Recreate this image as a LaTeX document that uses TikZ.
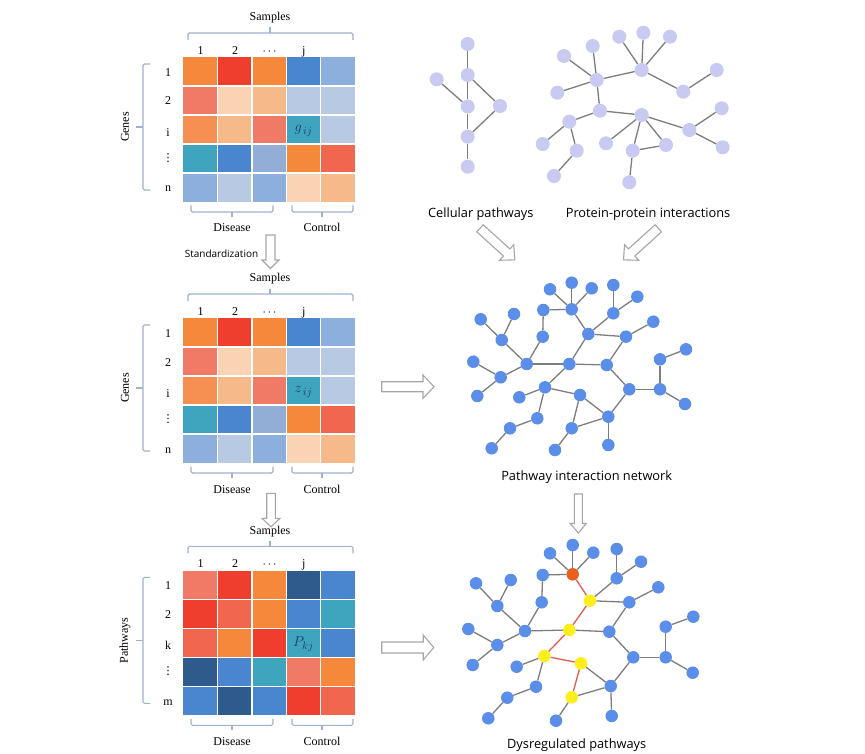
\documentclass[tikz,border=0pt]{standalone}
\usepackage{fontspec}
\setmainfont{Liberation Serif}
\newfontfamily\osans{Open Sans}
\newfontfamily\dvs{DejaVu Sans}
\definecolor{ORA}{RGB}{245,136,58}
\definecolor{ORB}{RGB}{245,144,82}
\definecolor{RED}{RGB}{239,62,46}
\definecolor{SAL}{RGB}{240,122,102}
\definecolor{SRED}{RGB}{240,102,79}
\definecolor{PEACH}{RGB}{249,211,179}
\definecolor{LORA}{RGB}{246,185,138}
\definecolor{BLU}{RGB}{74,133,208}
\definecolor{LBLU}{RGB}{141,175,221}
\definecolor{GBLU}{RGB}{184,201,227}
\definecolor{MBLU}{RGB}{147,174,214}
\definecolor{TEAL}{RGB}{63,165,190}
\definecolor{NAVY}{RGB}{46,90,140}
\definecolor{TXT}{RGB}{28,58,105}
\definecolor{BRC}{RGB}{160,178,208}
\definecolor{LAV}{RGB}{201,201,242}
\definecolor{NBLU}{RGB}{90,142,232}
\definecolor{NYEL}{RGB}{255,238,30}
\definecolor{NORA}{RGB}{232,96,28}
\definecolor{EDG}{RGB}{125,125,125}
\definecolor{REDG}{RGB}{222,92,82}
\tikzset{
  brace/.style={draw=BRC, line width=1.1, rounded corners=1.5},
  lbl/.style={font=\fontsize{12}{14}\selectfont, inner sep=0},
  netlbl/.style={font=\osans\fontsize{12.8}{15}\selectfont, inner sep=0},
  smlbl/.style={font=\osans\fontsize{10}{12}\selectfont, inner sep=0},
  pv/.style={circle, inner sep=0, minimum size=14pt, fill=LAV},
  bv/.style={circle, inner sep=0, minimum size=12.5pt, fill=NBLU},
  yv/.style={bv, fill=NYEL},
  ov/.style={bv, fill=NORA},
  edge/.style={draw=EDG, line width=1.3},
  redge/.style={draw=REDG, line width=1.3},
  harrow/.style={draw=gray!70, fill=white, line width=1.1, line join=miter}
}
% #1 start, #2 angle, #3 length, #4 shaft half width, #5 head half width, #6 head length
\newcommand{\blockarrow}[6]{%
  \begin{scope}[shift={#1}, rotate=#2]
    \draw[harrow] (0,-#4) -- ({#3-#6},-#4) -- ({#3-#6},-#5) -- (#3,0) -- ({#3-#6},#5) -- ({#3-#6},#4) -- (0,#4) -- cycle;
  \end{scope}}
% #1 y shift, #2 prefix, #3 side label, #4 row3 label, #5 last label, #6 cell text, #7 colours
\newcommand{\heatmap}[7]{%
  \begin{scope}[shift={(0,#1)}]
    \foreach \rw [count=\ri] in {#7} {
      \foreach \cc [count=\ci] in \rw {
        \fill[fill=\cc] ({183.3+34.35*(\ci-1)},{57.3+28.9*(\ri-1)}) rectangle ++(34.35,28.9);
      }
    }
    \foreach \k in {1,...,4} {
      \draw[white, line width=1.5] ({183.3+34.35*\k},57.3) -- ++(0,144.5);
      \draw[white, line width=1.5] (183.3,{57.3+28.9*\k}) -- ++(171.75,0);
    }
    \node[text=TXT, font=\fontsize{15}{15}\selectfont] (#2val) at (303.5,131) {$#6$};
    \node[lbl] (#2samp) at (270,18) {Samples};
    \draw[brace] (188,40) -- (188,33) -- (353,33) -- (353,40);
    \draw[brace] (270,33) -- (270,27.5);
    \node[lbl, anchor=base] (#2c1) at (200.5,54.5) {1};
    \node[lbl, anchor=base] (#2c2) at (235,54.5) {2};
    \node[lbl, anchor=base] (#2c3) at (269.5,54.5) {$\cdots$};
    \node[lbl, anchor=base] (#2c4) at (303.7,54.5) {j};
    \node[lbl, anchor=base] (#2r1) at (168,76.5) {1};
    \node[lbl, anchor=base] (#2r2) at (168,105) {2};
    \node[lbl, anchor=base] (#2r3) at (168,136.5) {#4};
    \node[inner sep=0, font=\dvs\fontsize{11}{12}\selectfont] (#2r4) at (168,158) {⋮};
    \node[lbl, anchor=base] (#2r5) at (168,192) {#5};
    \draw[brace] (150,64) -- (143,64) -- (143,190) -- (150,190);
    \draw[brace] (143,127) -- (136,127);
    \node[lbl, rotate=90] (#2side) at (125,127) {#3};
    \draw[brace] (191,205.5) -- (191,212) -- (273,212) -- (273,205.5);
    \draw[brace] (232,212) -- (232,217);
    \draw[brace] (292,205.5) -- (292,212) -- (353,212) -- (353,205.5);
    \draw[brace] (322,212) -- (322,217);
    \node[lbl, anchor=base] (#2dis) at (232,232) {Disease};
    \node[lbl, anchor=base] (#2con) at (322,232) {Control};
  \end{scope}}
\begin{document}
\begin{tikzpicture}[x=1pt,y=-1pt]
\fill[white] (0,0) rectangle (865,754);
\useasboundingbox (0,0) rectangle (865,754);

% ---------- heat maps ----------
\heatmap{0}{ma}{Genes}{i}{n}{g_{\,ij}}{{ORA,RED,ORA,BLU,LBLU},{SAL,PEACH,LORA,GBLU,GBLU},{ORB,LORA,SAL,TEAL,GBLU},{TEAL,BLU,MBLU,ORA,SRED},{LBLU,GBLU,LBLU,PEACH,LORA}}
\heatmap{261}{mb}{Genes}{i}{n}{z_{\,ij}}{{ORA,RED,ORA,BLU,LBLU},{SAL,PEACH,LORA,GBLU,GBLU},{ORB,LORA,SAL,TEAL,GBLU},{TEAL,BLU,MBLU,ORA,SRED},{LBLU,GBLU,LBLU,PEACH,LORA}}
\heatmap{513.4}{mc}{Pathways}{k}{m}{P_{kj}}{{SAL,RED,ORA,NAVY,BLU},{RED,SRED,ORA,BLU,TEAL},{SRED,ORA,RED,TEAL,BLU},{NAVY,BLU,TEAL,SAL,ORA},{BLU,NAVY,BLU,RED,SRED}}

\node[smlbl] (std) at (221.5,253.5) {Standardization};

% ---------- arrows ----------
\blockarrow{(270.5,235)}{-90}{33.5}{4.5}{8.5}{8.5}
\blockarrow{(271,493.3)}{-90}{33.5}{4.3}{9}{8.5}
\blockarrow{(381.7,386.7)}{0}{52.3}{5}{11.7}{11}
\blockarrow{(381.7,647.5)}{0}{52}{5.5}{12.5}{10.5}
\blockarrow{(480,228.3)}{-42.2}{47}{4.8}{10.5}{11}
\blockarrow{(658.3,228.3)}{-137.8}{47}{4.8}{10.5}{11}
\blockarrow{(578.3,494)}{-90}{39}{4}{8}{9.5}

% ---------- cellular pathways ----------
\node[pv] (a1) at (467.7,44) {};
\node[pv] (a2) at (467.7,75) {};
\node[pv] (a3) at (436.7,79.3) {};
\node[pv] (a4) at (467.7,106.5) {};
\node[pv] (a5) at (500,106) {};
\node[pv] (a6) at (467.7,136.7) {};
\node[pv] (a7) at (467.7,166.7) {};
\foreach \u/\v in {a1/a2,a2/a4,a3/a4,a2/a5,a4/a6,a5/a6,a6/a7} \draw[edge] (\u) -- (\v);

% ---------- protein-protein interactions ----------
\node[pv] (p1) at (596.7,80) {};
\node[pv] (p2) at (641.7,70) {};
\node[pv] (p3) at (619.3,36.7) {};
\node[pv] (p4) at (643.3,32.7) {};
\node[pv] (p5) at (670,36.7) {};
\node[pv] (p6) at (683.3,91.7) {};
\node[pv] (p7) at (716.7,70) {};
\node[pv] (p8) at (564,56) {};
\node[pv] (p9) at (592.7,46) {};
\node[pv] (p10) at (557.3,92.7) {};
\node[pv] (p11) at (600,110.7) {};
\node[pv] (p12) at (569.3,121.7) {};
\node[pv] (p13) at (542.7,144) {};
\node[pv] (p14) at (576.7,150.7) {};
\node[pv] (p15) at (554,176) {};
\node[pv] (p16) at (641.7,115) {};
\node[pv] (p17) at (606,143.3) {};
\node[pv] (p18) at (632.7,150.7) {};
\node[pv] (p19) at (666,145) {};
\node[pv] (p20) at (629.3,182.3) {};
\node[pv] (p21) at (689.3,130) {};
\node[pv] (p22) at (721.7,108.3) {};
\node[pv] (p23) at (722.7,147.3) {};
\foreach \u/\v in {p1/p2,p2/p3,p2/p4,p2/p5,p2/p6,p6/p7,p1/p8,p1/p9,p1/p10,p1/p11,p11/p12,p12/p13,p12/p14,p14/p15,p11/p16,p16/p17,p16/p18,p16/p19,p18/p19,p18/p20,p16/p21,p21/p22,p21/p23}
  \draw[edge] (\u) -- (\v);

\node[netlbl] (lcp) at (480.8,214) {Cellular pathways};
\node[netlbl] (lppi) at (648,214) {Protein-protein interactions};

% ---------- pathway interaction network ----------
\foreach \nm/\xx/\yy in {1/550/289.3, 2/571.7/282.7, 3/591.7/288.3, 4/613.3/285, 5/637.3/296.7, 6/543.3/310, 7/571.7/309.3, 8/613.3/313.3, 9/480.7/319.3, 10/514/314, 11/653.3/321.7, 12/588.3/334, 13/626/336.7, 14/501.7/340, 15/542.7/336.7, 16/686/349.3, 17/660/359.3, 18/473.3/361.7, 19/526.7/364, 20/569.3/364, 21/606.7/365, 22/500.7/377.3, 23/545/387.3, 24/629.3/389.3, 25/660/389.3, 26/477.3/396, 27/519.3/397.3, 28/580/395, 29/685/404, 30/537.3/418.3, 31/608.3/416.7, 32/510/428.3, 33/571.7/428.3, 34/491.7/448.3, 35/555/450, 36/608.3/445}
  \node[bv] (n\nm) at (\xx,\yy) {};
\foreach \u/\v in {7/1,7/2,7/3,7/6,6/15,15/19,4/8,8/5,8/12,7/12,12/13,13/11,13/21,12/20,20/19,20/21,20/23,9/14,10/14,14/19,19/22,18/22,22/26,21/24,24/25,25/17,17/16,25/29,24/31,23/27,23/28,23/30,30/32,32/34,28/31,28/33,33/31,33/35,31/36}
  \draw[edge] (n\u) -- (n\v);
\node[netlbl] (lpin) at (586.7,477) {Pathway interaction network};

% ---------- dysregulated pathways ----------
\foreach \nm/\xx/\yy in {1/550/553.3, 2/572.7/545, 3/593.3/552.7, 4/616.7/549, 5/641/561.7, 6/542.7/575, 8/616.7/578.3, 9/476/583.3, 10/510.7/580, 11/658.3/587.3, 13/629.3/602.3, 14/497.3/606, 15/541.7/602.3, 16/693.3/616.7, 17/665.7/626.7, 18/468.3/629, 19/525/631, 21/609.3/631.7, 22/497.3/645, 24/633.3/657.3, 25/665.7/657.3, 26/472.7/665, 27/516.7/666.7, 29/692.7/672.7, 30/536/686.7, 31/610.7/686, 32/507.3/697.7, 34/488.3/718.3, 35/556/720.7, 36/611.7/716}
  \node[bv] (m\nm) at (\xx,\yy) {};
\node[ov] (m7) at (572.7,574.3) {};
\foreach \nm/\xx/\yy in {12/590/600.7, 20/569.3/630, 23/544.3/656, 28/581/663.3, 33/571.7/697.3}
  \node[yv] (m\nm) at (\xx,\yy) {};
\foreach \u/\v in {7/1,7/2,7/3,7/6,6/15,15/19,4/8,8/5,8/12,12/13,13/11,13/21,20/19,20/21,9/14,10/14,14/19,19/22,18/22,22/26,21/24,24/25,25/17,17/16,25/29,24/31,23/27,23/30,30/32,32/34,28/31,33/31,33/35,31/36}
  \draw[edge] (m\u) -- (m\v);
\foreach \u/\v in {7/12,12/20,20/23,23/28,28/33}
  \draw[redge] (m\u) -- (m\v);
\node[netlbl] (ldys) at (576.7,745) {Dysregulated pathways};
\end{tikzpicture}
\end{document}
